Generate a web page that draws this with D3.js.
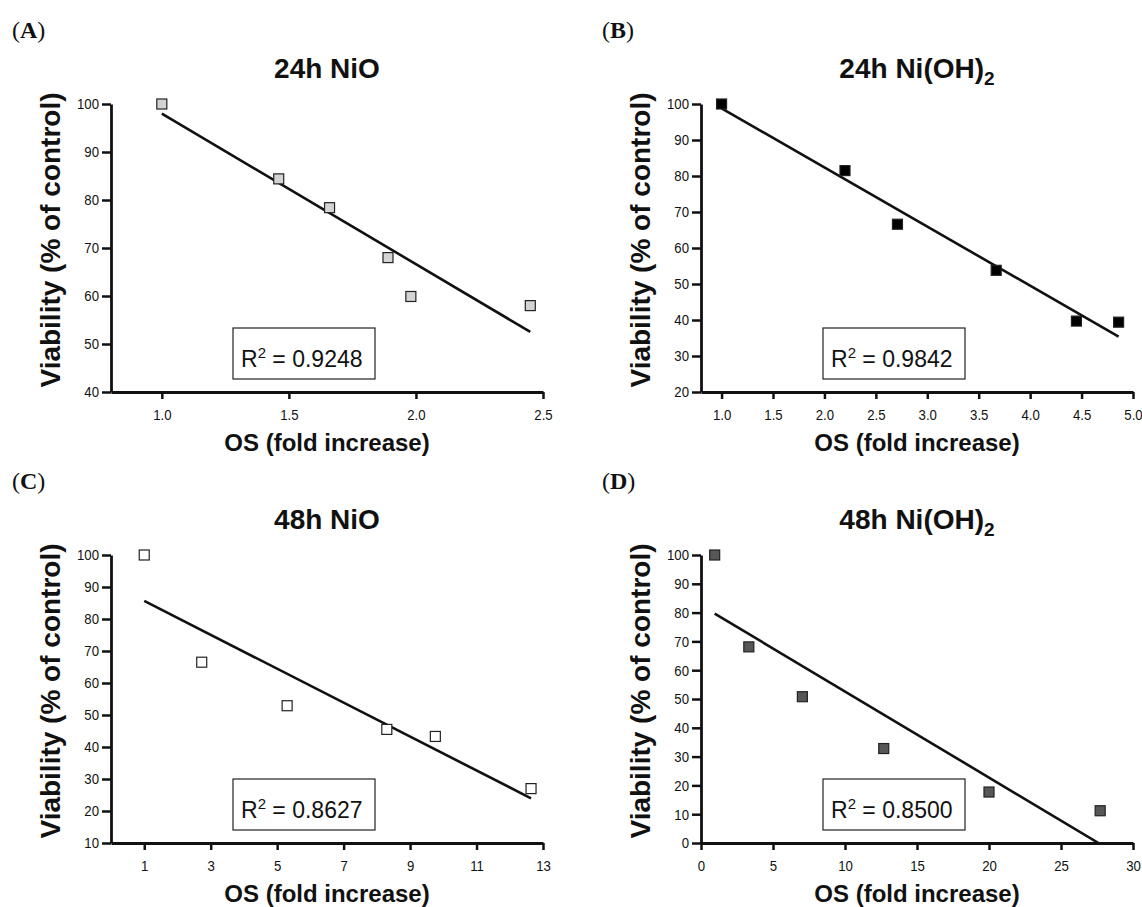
<!DOCTYPE html>
<html>
  <head>
  <title>Viability vs OS</title>
  <style>
    body, html {
      margin: 0;
      padding: 0;
      background: #fff;
    }
  </style>
  </head>
  <body>

  <svg id="svg" width="1142" height="907"></svg>
  <script src="https://d3js.org/d3.v7.min.js"></script>
  <script>
      // values
      const osA = [1.00, 1.46, 1.66, 1.89, 1.98, 2.45]
      const viaA = [100, 84.4, 78.4, 68.0, 59.9, 58.0]
      const osB = [1.00, 2.20, 2.71, 3.67, 4.45, 4.86]
      const viaB = [100, 81.5, 66.6, 53.8, 39.7, 39.4]
      const osC = [1.00, 2.73, 5.30, 8.30, 9.76, 12.64]
      const viaC = [100, 66.5, 52.9, 45.5, 43.3, 27.0]
      const osD = [0.95, 3.32, 7.04, 12.69, 20.0, 27.72]
      const viaD = [100, 68.1, 50.8, 32.8, 17.7, 11.2]

      const panelLetters = ['A', 'B', 'C', 'D']
      const titleTimes = ['24h', '24h', '48h', '48h']
      const titleCompounds = ['NiO', 'Ni(OH)', 'NiO', 'Ni(OH)']
      const titleSubs = ['', '2', '', '2']
      const r2Values = ['0.9248', '0.9842', '0.8627', '0.8500']

      const xTicksA = [1.0, 1.5, 2.0, 2.5]
      const xTicksB = [1.0, 1.5, 2.0, 2.5, 3.0, 3.5, 4.0, 4.5, 5.0]
      const xTicksC = [1, 3, 5, 7, 9, 11, 13]
      const xTicksD = [0, 5, 10, 15, 20, 25, 30]
      const yTicksA = [40, 50, 60, 70, 80, 90, 100]
      const yTicksB = [20, 30, 40, 50, 60, 70, 80, 90, 100]
      const yTicksC = [10, 20, 30, 40, 50, 60, 70, 80, 90, 100]
      const yTicksD = [0, 10, 20, 30, 40, 50, 60, 70, 80, 90, 100]

      const xLabel = 'OS (fold increase)'
      const yLabel = 'Viability (% of control)'

      const width = 432
      const height = 288
      const sans = '"Liberation Sans", Arial, sans-serif'
      const squeeze = 0.88

      const panels = [
        { os: osA, via: viaA, xd: [0.8, 2.5], xt: xTicksA, yt: yTicksA, fmt: d3.format('.1f'), fill: '#d4d4d4', ox: 111, oy: 104 },
        { os: osB, via: viaB, xd: [0.8, 5.0], xt: xTicksB, yt: yTicksB, fmt: d3.format('.1f'), fill: '#000000', ox: 701, oy: 104 },
        { os: osC, via: viaC, xd: [0, 13], xt: xTicksC, yt: yTicksC, fmt: d3.format('d'), fill: '#ffffff', ox: 111, oy: 555 },
        { os: osD, via: viaD, xd: [0, 30], xt: xTicksD, yt: yTicksD, fmt: d3.format('d'), fill: '#575757', ox: 701, oy: 555 }
      ]

      const svg = d3.select('#svg')
      svg.append('rect').attr('width', 1142).attr('height', 907).attr('fill', '#fff')

      function fit(xs, ys) {
        const mx = d3.mean(xs), my = d3.mean(ys)
        const sxy = d3.sum(xs, (v, i) => (v - mx) * (ys[i] - my))
        const sxx = d3.sum(xs, v => (v - mx) * (v - mx))
        const slope = sxy / sxx
        return v => my + slope * (v - mx)
      }

      panels.forEach((p, i) => {
        const x = d3.scaleLinear().domain(p.xd).range([0, width])
        const y = d3.scaleLinear().domain([p.yt[0], p.yt[p.yt.length - 1]]).range([height, 0])
        const g = svg.append('g').attr('transform', `translate(${p.ox},${p.oy})`)

        // panel letter
        const lab = svg.append('text')
          .attr('x', p.ox - 99)
          .attr('y', p.oy - 66)
          .attr('font-family', '"Liberation Serif", "DejaVu Serif", serif')
          .attr('font-size', 24)
          .attr('fill', '#111')
        lab.append('tspan').text('(')
        lab.append('tspan').attr('font-weight', 'bold').text(panelLetters[i])
        lab.append('tspan').text(')')

        // title
        const t = g.append('text')
          .attr('x', width / 2)
          .attr('y', -26)
          .attr('text-anchor', 'middle')
          .attr('font-family', sans)
          .attr('font-weight', 'bold')
          .attr('font-size', 28)
          .attr('fill', '#111')
        t.append('tspan').text(titleTimes[i] + ' ' + titleCompounds[i])
        if (titleSubs[i]) t.append('tspan').attr('font-size', 19).attr('dy', 7).text(titleSubs[i])

        // axes
        const ya = g.append('g')
          .call(d3.axisLeft(y).tickValues(p.yt).tickSize(9).tickPadding(3).tickSizeOuter(0))
        const xa = g.append('g')
          .attr('transform', `translate(0,${height})`)
          .call(d3.axisBottom(x).tickValues(p.xt).tickFormat(p.fmt).tickSize(7).tickPadding(10).tickSizeOuter(0))
        ;[ya, xa].forEach(a => {
          a.attr('font-size', null).attr('font-family', null)
          a.select('.domain').attr('stroke', '#111').attr('stroke-width', 2.8)
          a.selectAll('.tick line').attr('stroke', '#111').attr('stroke-width', 2.5)
          a.selectAll('.tick text')
            .style('font-family', sans)
            .style('font-size', '15px')
            .attr('fill', '#111')
            .attr('transform', `scale(${squeeze},1)`)
        })
        ya.selectAll('.tick text').attr('x', -12 / squeeze)

        // regression line
        const f = fit(p.os, p.via)
        const x0 = d3.min(p.os), x1 = d3.max(p.os)
        g.append('clipPath').attr('id', 'clip' + i)
          .append('rect').attr('x', 0).attr('y', 0).attr('width', width).attr('height', height)
        g.append('line')
          .attr('clip-path', `url(#clip${i})`)
          .attr('x1', x(x0)).attr('y1', y(f(x0)))
          .attr('x2', x(x1)).attr('y2', y(f(x1)))
          .attr('stroke', '#111')
          .attr('stroke-width', 2.6)

        // points
        g.selectAll('rect.pt')
          .data(p.os.map((v, k) => [v, p.via[k]]))
          .join('rect')
          .attr('class', 'pt')
          .attr('x', d => x(d[0]) - 5)
          .attr('y', d => y(d[1]) - 5)
          .attr('width', 10)
          .attr('height', 10)
          .attr('fill', p.fill)
          .attr('stroke', '#222')
          .attr('stroke-width', 1.2)

        // R2 box
        g.append('rect')
          .attr('x', 122).attr('y', 224)
          .attr('width', 142).attr('height', 51)
          .attr('fill', '#fff')
          .attr('stroke', '#222')
          .attr('stroke-width', 1.2)
        const r = g.append('text')
          .attr('x', 130).attr('y', 263)
          .attr('font-family', sans)
          .attr('font-size', 23)
          .attr('fill', '#111')
        r.append('tspan').text('R')
        r.append('tspan').attr('font-size', 15).attr('dy', -9).text('2')
        r.append('tspan').attr('dy', 9).text(' = ' + r2Values[i])

        // axis titles
        g.append('text')
          .attr('x', width / 2)
          .attr('y', 347)
          .attr('text-anchor', 'middle')
          .attr('font-family', sans)
          .attr('font-weight', 'bold')
          .attr('font-size', 24)
          .attr('fill', '#111')
          .text(xLabel)
        g.append('text')
          .attr('transform', `translate(-51,${height / 2 - 8}) rotate(-90)`)
          .attr('text-anchor', 'middle')
          .attr('font-family', sans)
          .attr('font-weight', 'bold')
          .attr('font-size', 28)
          .attr('fill', '#111')
          .text(yLabel)
      })
  </script>
</body>
</html>
